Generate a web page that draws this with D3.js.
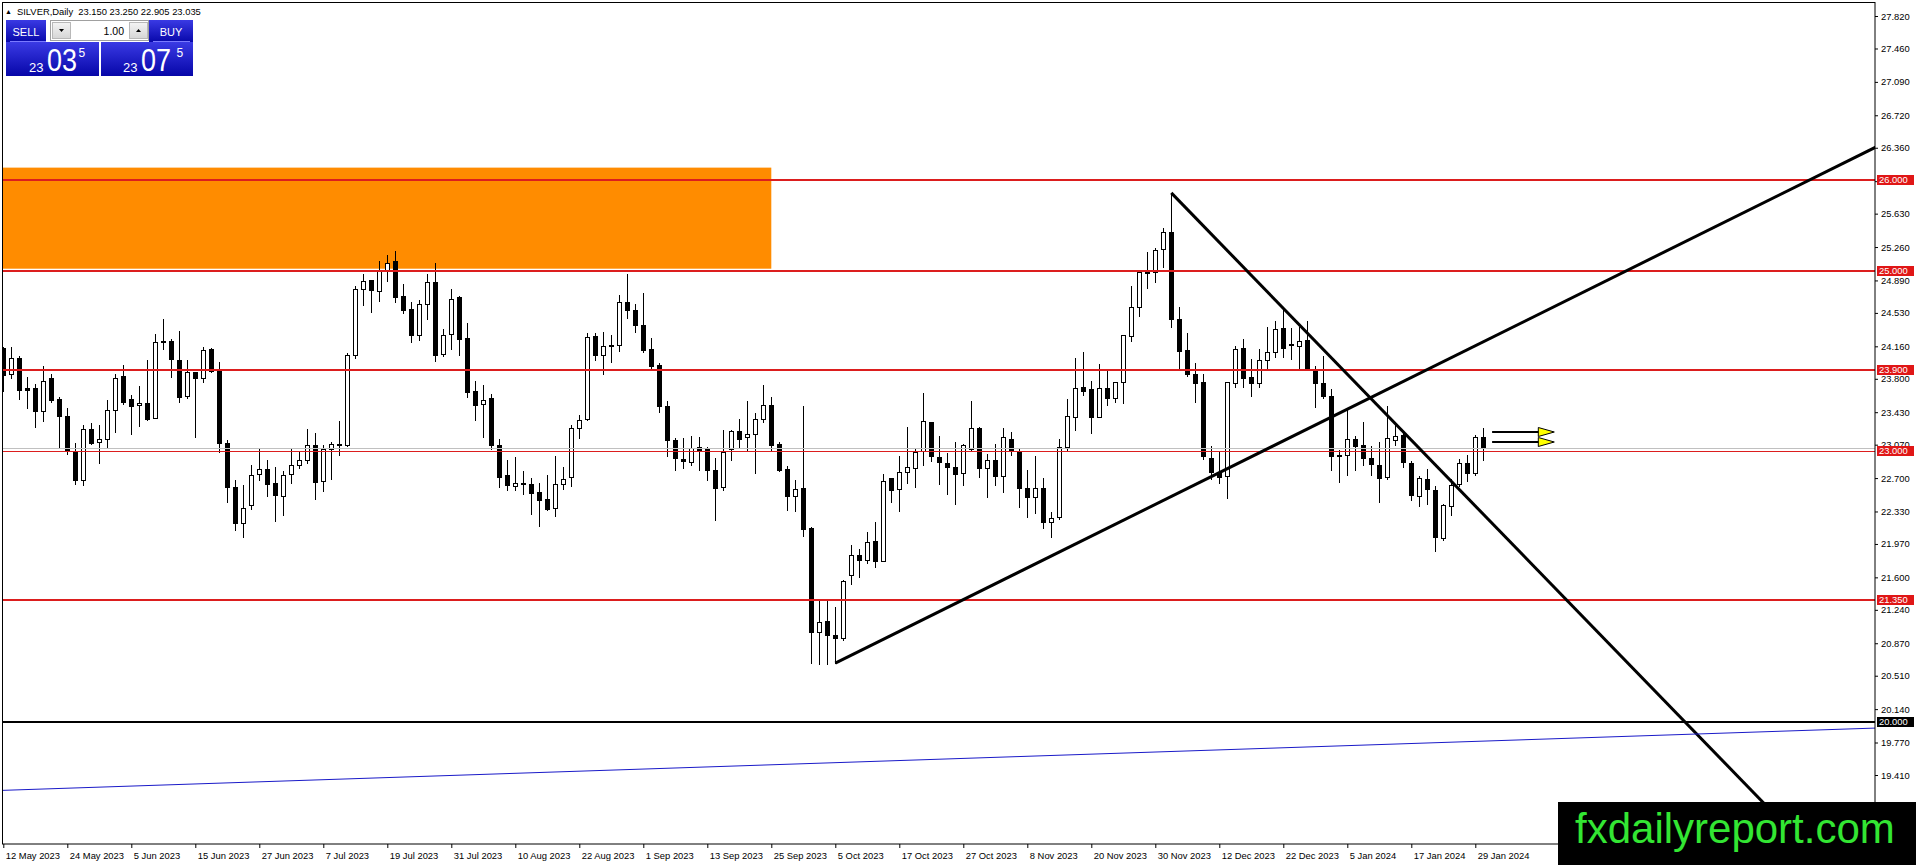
<!DOCTYPE html>
<html>
<head>
<meta charset="utf-8">
<script src="https://cdn.jsdelivr.net/npm/d3@7"></script>
<style>
body { margin: 0; background: #fff; overflow: hidden; }
svg { display: block; font-family: Tahoma, "Liberation Sans", Arial, sans-serif; }
</style>
</head>
<body>
<script>
// SILVER daily, 12 May 2023 - 30 Jan 2024 (one bar per trading day)
var opens = [24.143, 23.855, 24.032, 23.693, 23.693, 23.441, 23.811, 23.571, 23.393, 23.002,
22.677, 23.249, 23.098, 23.135, 23.456, 23.826, 23.571, 23.515, 23.537, 23.368,
24.224, 24.224, 24.010, 23.611, 23.870, 23.811, 24.132, 23.885, 23.094, 22.596,
22.204, 22.404, 22.740, 22.802, 22.651, 22.503, 22.740, 22.847, 22.902, 23.068,
22.666, 23.024, 23.079, 23.061, 24.066, 24.797, 24.896, 24.775, 25.007, 25.100,
24.712, 24.575, 24.287, 24.631, 24.878, 24.073, 24.298, 24.701, 24.254, 23.663,
23.523, 23.582, 23.068, 22.729, 22.614, 22.647, 22.633, 22.551, 22.470, 22.367,
22.636, 22.710, 23.260, 23.353, 24.269, 24.066, 24.162, 24.176, 24.649, 24.557,
24.391, 24.133, 23.952, 23.501, 23.124, 22.914, 22.873, 23.043, 23.028, 22.792,
22.600, 23.021, 23.217, 23.154, 23.187, 23.353, 23.512, 23.080, 22.803, 22.497,
22.593, 22.149, 20.990, 21.119, 20.964, 20.927, 21.621, 21.850, 21.787, 22.005,
21.784, 22.696, 22.578, 22.770, 22.809, 23.005, 23.318, 22.931, 22.864, 22.820,
22.754, 23.019, 23.252, 22.809, 22.898, 22.724, 23.130, 22.994, 22.587, 22.495,
22.587, 22.211, 22.266, 23.042, 23.381, 23.706, 23.684, 23.381, 23.695, 23.584,
23.762, 24.278, 24.592, 24.987, 24.980, 25.235, 25.423, 24.463, 24.119, 23.853,
23.761, 22.922, 22.771, 22.727, 23.757, 24.138, 23.824, 23.757, 24.005, 24.093,
24.359, 24.186, 24.167, 24.230, 23.898, 23.752, 23.612, 22.958, 22.951, 23.132,
23.069, 22.921, 22.847, 22.707, 23.117, 23.180, 22.866, 22.497, 22.689, 22.571,
22.035, 22.393, 22.633, 22.866, 22.755, 23.150];

var highs = [24.150, 24.150, 24.058, 23.818, 23.744, 23.947, 23.855, 23.597, 23.475, 23.091,
23.283, 23.312, 23.283, 23.560, 23.855, 23.955, 23.622, 23.715, 24.003, 24.295,
24.464, 24.243, 24.332, 24.010, 23.873, 24.150, 24.140, 23.984, 23.127, 22.684,
22.625, 22.847, 23.024, 22.902, 22.821, 22.773, 23.017, 23.002, 23.246, 23.201,
23.068, 23.098, 23.334, 24.088, 24.823, 24.963, 24.900, 25.103, 25.174, 25.211,
24.852, 24.649, 24.668, 24.963, 25.085, 24.354, 24.790, 24.712, 24.420, 23.781,
23.726, 23.633, 23.135, 22.895, 22.939, 22.780, 22.699, 22.647, 22.729, 22.950,
22.828, 23.283, 23.401, 24.309, 24.306, 24.324, 24.280, 24.730, 24.956, 24.631,
24.749, 24.251, 23.974, 23.557, 23.143, 23.143, 23.169, 23.150, 23.043, 22.921,
23.235, 23.235, 23.353, 23.549, 23.420, 23.734, 23.597, 23.095, 22.829, 22.681,
23.501, 22.157, 21.344, 21.344, 21.267, 21.573, 21.957, 21.917, 22.098, 22.208,
22.748, 22.700, 22.947, 23.265, 23.031, 23.640, 23.326, 23.167, 22.975, 23.097,
23.075, 23.559, 23.263, 22.968, 23.079, 23.252, 23.208, 23.031, 22.790, 22.946,
22.698, 22.321, 23.130, 23.573, 24.028, 24.094, 23.777, 23.965, 23.898, 23.770,
24.290, 24.828, 24.987, 25.201, 25.253, 25.467, 25.860, 24.592, 24.304, 23.971,
23.853, 23.055, 23.004, 23.768, 24.163, 24.241, 24.016, 24.130, 24.378, 24.444,
24.562, 24.359, 24.370, 24.444, 23.946, 24.055, 23.686, 23.014, 23.457, 23.161,
23.320, 23.050, 23.099, 23.494, 23.283, 23.206, 22.884, 22.718, 22.799, 22.615,
22.415, 22.689, 22.914, 22.958, 23.180, 23.250];

var lows = [23.670, 23.807, 23.578, 23.475, 23.264, 23.331, 23.541, 23.042, 22.969, 22.636,
22.625, 23.079, 22.865, 23.031, 23.209, 23.519, 23.187, 23.275, 23.338, 23.364,
24.128, 23.818, 23.541, 23.585, 23.153, 23.763, 23.873, 22.987, 22.433, 22.130,
22.045, 22.356, 22.684, 22.500, 22.223, 22.293, 22.647, 22.810, 22.865, 22.470,
22.555, 22.692, 22.958, 23.050, 24.029, 24.620, 24.538, 24.657, 24.889, 24.649,
24.531, 24.206, 24.232, 24.464, 23.992, 24.051, 24.132, 24.066, 23.597, 23.345,
23.153, 23.024, 22.599, 22.570, 22.570, 22.525, 22.304, 22.167, 22.348, 22.285,
22.581, 22.607, 23.142, 23.338, 24.003, 23.855, 23.984, 24.103, 24.472, 24.317,
24.095, 23.911, 23.427, 22.947, 22.785, 22.810, 22.847, 22.785, 22.681, 22.238,
22.570, 22.903, 23.032, 23.006, 22.755, 23.324, 23.006, 22.781, 22.349, 22.338,
22.061, 20.650, 20.639, 20.639, 20.650, 20.908, 21.525, 21.599, 21.758, 21.710,
21.776, 22.430, 22.330, 22.644, 22.598, 22.846, 22.890, 22.632, 22.525, 22.414,
22.624, 23.005, 22.709, 22.495, 22.624, 22.550, 22.953, 22.384, 22.273, 22.318,
22.144, 22.050, 22.247, 23.005, 23.234, 23.618, 23.204, 23.374, 23.511, 23.544,
23.529, 24.222, 24.500, 24.810, 24.876, 25.042, 24.370, 23.923, 23.831, 23.547,
22.908, 22.686, 22.642, 22.476, 23.713, 23.713, 23.613, 23.713, 23.909, 24.038,
24.045, 24.019, 23.909, 23.909, 23.491, 23.586, 22.792, 22.652, 22.737, 22.785,
22.847, 22.737, 22.430, 22.689, 23.069, 22.818, 22.460, 22.386, 22.415, 21.887,
22.016, 22.293, 22.607, 22.663, 22.736, 22.905];

var closes = [23.837, 24.032, 23.678, 23.678, 23.441, 23.781, 23.560, 23.386, 22.995, 22.677,
23.246, 23.094, 23.135, 23.456, 23.811, 23.541, 23.504, 23.537, 23.356, 24.213,
24.206, 24.018, 23.597, 23.870, 23.811, 24.121, 23.881, 23.091, 22.603, 22.204,
22.367, 22.736, 22.802, 22.636, 22.514, 22.729, 22.847, 22.902, 23.068, 22.662,
23.024, 23.079, 23.065, 24.066, 24.797, 24.886, 24.786, 25.007, 25.085, 24.705,
24.561, 24.287, 24.631, 24.871, 24.066, 24.280, 24.686, 24.239, 23.652, 23.512,
23.567, 23.061, 22.710, 22.625, 22.647, 22.633, 22.537, 22.459, 22.359, 22.636,
22.692, 23.260, 23.349, 24.265, 24.066, 24.169, 24.176, 24.649, 24.564, 24.398,
24.114, 23.937, 23.494, 23.117, 22.921, 22.888, 23.032, 23.006, 22.785, 22.585,
22.991, 23.224, 23.136, 23.187, 23.353, 23.509, 23.069, 22.785, 22.497, 22.578,
22.135, 20.990, 21.104, 20.956, 20.927, 21.562, 21.846, 21.787, 21.994, 21.776,
22.670, 22.563, 22.770, 22.818, 22.994, 23.333, 22.946, 22.875, 22.820, 22.746,
23.064, 23.252, 22.809, 22.898, 22.724, 23.160, 23.008, 22.587, 22.488, 22.587,
22.211, 22.255, 23.042, 23.392, 23.695, 23.670, 23.381, 23.695, 23.592, 23.762,
24.286, 24.592, 24.980, 24.969, 25.227, 25.423, 24.459, 24.112, 23.850, 23.757,
22.948, 22.771, 22.716, 23.761, 24.130, 23.813, 23.757, 24.005, 24.101, 24.352,
24.145, 24.171, 24.223, 23.916, 23.750, 23.605, 22.940, 22.943, 23.132, 23.050,
22.921, 22.855, 22.700, 23.143, 23.169, 22.873, 22.508, 22.700, 22.578, 22.042,
22.400, 22.626, 22.866, 22.755, 23.154, 23.035];

// one date label every 8 bars
var dateLabels = ["12 May 2023", "24 May 2023", "5 Jun 2023", "15 Jun 2023", "27 Jun 2023",
"7 Jul 2023", "19 Jul 2023", "31 Jul 2023", "10 Aug 2023", "22 Aug 2023", "1 Sep 2023",
"13 Sep 2023", "25 Sep 2023", "5 Oct 2023", "17 Oct 2023", "27 Oct 2023", "8 Nov 2023",
"20 Nov 2023", "30 Nov 2023", "12 Dec 2023", "22 Dec 2023", "5 Jan 2024", "17 Jan 2024",
"29 Jan 2024"];

var priceTicks = [27.82, 27.46, 27.09, 26.72, 26.36, 25.99, 25.63, 25.26, 24.89, 24.53,
24.16, 23.80, 23.43, 23.07, 22.70, 22.33, 21.97, 21.60, 21.24, 20.87, 20.51, 20.14,
19.77, 19.41, 19.04];

// drawn objects (bar index, price)
var redLevels = [26.0, 25.0, 23.9, 23.0, 21.35];
var blackLevels = [20.0];
var bidPrice = 23.035;
var zoneBars = [-10, 96];
var zonePrices = [25.02, 26.14];
var upTrend = [[104, 20.65], [200, 24.87]];
var downTrend = [[146, 25.86], [200, 20.93]];
var blueLine = [[0, 19.24], [234, 19.93]];
var arrowBars = [186.1, 192];
var arrowPrices = [23.21, 23.10];

var header = "SILVER,Daily";
var ohlc = [23.150, 23.250, 22.905, 23.035];
var sellQuote = ["23", "03", "5"];
var buyQuote = ["23", "07", "5"];
var lotSize = "1.00";

var W = 1916, H = 865;
var plot = {left: 3, top: 3, right: 1875, bottom: 844};
var font = 9.4;

var x = d3.scaleLinear().domain([0, 234]).range([3.3, 1875.3]);
var y = d3.scaleLinear().domain([19.41, 27.82]).range([775, 16]);

var svg = d3.select('body').append('svg')
.attr('width', W)
.attr('height', H);

var defs = svg.append('defs');
defs.append('clipPath').attr('id', 'plotclip')
.append('rect')
.attr('x', plot.left)
.attr('y', plot.top)
.attr('width', plot.right - plot.left)
.attr('height', plot.bottom - plot.top);

var grad = defs.append('linearGradient').attr('id', 'blue')
.attr('x1', 0).attr('y1', 0).attr('x2', 0).attr('y2', 1);
grad.append('stop').attr('offset', '0%').attr('stop-color', '#3a3ae4');
grad.append('stop').attr('offset', '100%').attr('stop-color', '#0606a8');

var btn = defs.append('linearGradient').attr('id', 'btn')
.attr('x1', 0).attr('y1', 0).attr('x2', 0).attr('y2', 1);
btn.append('stop').attr('offset', '0%').attr('stop-color', '#f4f4f4');
btn.append('stop').attr('offset', '100%').attr('stop-color', '#d6d6d6');

var main = svg.append('g').attr('clip-path', 'url(#plotclip)');

// orange supply zone
main.append('rect')
.attr('x', x(zoneBars[0]))
.attr('y', y(zonePrices[1]))
.attr('width', x(zoneBars[1]) - x(zoneBars[0]))
.attr('height', y(zonePrices[0]) - y(zonePrices[1]))
.attr('fill', '#ff8c00');

// candles
var bars = d3.range(opens.length);
var candles = main.append('g');

candles.selectAll('line.wick')
.data(bars)
.enter().append('line')
.attr('class', 'wick')
.attr('x1', function(i) { return Math.round(x(i)) + 0.5; })
.attr('x2', function(i) { return Math.round(x(i)) + 0.5; })
.attr('y1', function(i) { return Math.round(y(highs[i])); })
.attr('y2', function(i) { return Math.round(y(lows[i])) + 1; })
.attr('stroke', '#000')
.attr('stroke-width', 1);

candles.selectAll('rect.body')
.data(bars)
.enter().append('rect')
.attr('class', 'body')
.attr('x', function(i) { return Math.round(x(i)) - 1.5; })
.attr('y', function(i) { return Math.round(y(Math.max(opens[i], closes[i]))) + 0.5; })
.attr('width', 4)
.attr('height', function(i) {
  var h = Math.round(y(Math.min(opens[i], closes[i]))) - Math.round(y(Math.max(opens[i], closes[i])));
  return Math.max(h, 1);
})
.attr('fill', function(i) { return closes[i] >= opens[i] ? '#fff' : '#000'; })
.attr('stroke', '#000')
.attr('stroke-width', 1);

// horizontal levels
var levels = main.append('g');
levels.append('line')
.attr('x1', plot.left).attr('x2', plot.right)
.attr('y1', Math.round(y(bidPrice)) + 0.5)
.attr('y2', Math.round(y(bidPrice)) + 0.5)
.attr('stroke', '#c0c0c0')
.attr('stroke-width', 1);

levels.selectAll('line.red')
.data(redLevels)
.enter().append('line')
.attr('class', 'red')
.attr('x1', plot.left).attr('x2', plot.right)
.attr('y1', function(d) { return d === 23.0 ? Math.round(y(d)) + 0.5 : Math.round(y(d)); })
.attr('y2', function(d) { return d === 23.0 ? Math.round(y(d)) + 0.5 : Math.round(y(d)); })
.attr('stroke', '#dc1e1e')
.attr('stroke-width', function(d) { return d === 23.0 ? 1 : 2; });

levels.selectAll('line.black')
.data(blackLevels)
.enter().append('line')
.attr('class', 'black')
.attr('x1', plot.left).attr('x2', plot.right)
.attr('y1', function(d) { return Math.round(y(d)); })
.attr('y2', function(d) { return Math.round(y(d)); })
.attr('stroke', '#000')
.attr('stroke-width', 2);

// trend lines
function valueAt(p, b) {
  return p[0][1] + (p[1][1] - p[0][1]) * (b - p[0][0]) / (p[1][0] - p[0][0]);
}
var bEnd = x.invert(plot.right + 4);
var bStart = x.invert(plot.left - 4);

[upTrend, downTrend].forEach(function(p) {
  main.append('line')
  .attr('x1', x(p[0][0])).attr('y1', y(p[0][1]))
  .attr('x2', x(bEnd)).attr('y2', y(valueAt(p, bEnd)))
  .attr('stroke', '#000')
  .attr('stroke-width', 3);
});

main.append('line')
.attr('x1', x(bStart)).attr('y1', y(valueAt(blueLine, bStart)))
.attr('x2', x(bEnd)).attr('y2', y(valueAt(blueLine, bEnd)))
.attr('stroke', '#1a1ac8')
.attr('stroke-width', 1);

// arrows
arrowPrices.forEach(function(p) {
  var yy = Math.round(y(p));
  var x0 = x(arrowBars[0]), x1 = x(arrowBars[1]);
  main.append('line')
  .attr('x1', x0).attr('x2', x1)
  .attr('y1', yy).attr('y2', yy)
  .attr('stroke', '#000')
  .attr('stroke-width', 2);
  main.append('path')
  .attr('d', 'M' + (x1 - 1) + ',' + (yy - 4.5) + 'L' + (x1 + 15) + ',' + yy + 'L' + (x1 - 1) + ',' + (yy + 4.5) + 'Z')
  .attr('fill', '#ffff00')
  .attr('stroke', '#000')
  .attr('stroke-width', 1);
});

// frame
svg.append('rect')
.attr('x', 2.5).attr('y', 2.5)
.attr('width', plot.right - 2.5)
.attr('height', plot.bottom - 2.5)
.attr('fill', 'none')
.attr('stroke', '#000')
.attr('stroke-width', 1);

// price axis
var yAxis = d3.axisRight(y)
.tickValues(priceTicks)
.tickFormat(d3.format('.3f'))
.tickSize(3)
.tickSizeOuter(0);

var ya = svg.append('g')
.attr('transform', 'translate(' + plot.right + ',0)')
.call(yAxis);
ya.select('.domain').remove();
ya.selectAll('text').attr('x', 6).style('font-size', font + 'px').style('font-family', 'Tahoma, "Liberation Sans", Arial, sans-serif').attr('fill', '#000');

// time axis
var xAxis = d3.axisBottom(x)
.tickValues(d3.range(0, dateLabels.length * 8, 8))
.tickFormat(function(d, i) { return dateLabels[i]; })
.tickSize(4)
.tickSizeOuter(0);

var xa = svg.append('g')
.attr('transform', 'translate(0,' + plot.bottom + ')')
.call(xAxis);
xa.select('.domain').remove();
xa.selectAll('text')
.attr('x', 2)
.attr('y', 8)
.style('text-anchor', 'start')
.style('font-size', font + 'px')
.style('font-family', 'Tahoma, "Liberation Sans", Arial, sans-serif')
.attr('fill', '#000');

// level labels on the price scale
var tags = svg.append('g');
function tag(v, color) {
  var yy = Math.round(y(v));
  tags.append('rect')
  .attr('x', plot.right + 2).attr('y', yy - 5)
  .attr('width', 37).attr('height', 10)
  .attr('fill', color);
  tags.append('text')
  .attr('x', plot.right + 4).attr('y', yy)
  .attr('dy', '0.35em')
  .style('font-size', font + 'px')
  .attr('fill', '#fff')
  .text(d3.format('.3f')(v));
}
redLevels.forEach(function(v) { tag(v, '#e01616'); });
blackLevels.forEach(function(v) { tag(v, '#000'); });

// header line
svg.append('text')
.attr('x', 5).attr('y', 14)
.style('font-size', '7px')
.text('\u25B2');
svg.append('text')
.attr('x', 17).attr('y', 14.5)
.style('font-size', font + 'px')
.style('white-space', 'pre')
.text(header + '  ' + ohlc.map(d3.format('.3f')).join(' '));

// one click trading panel
var panel = svg.append('g');
panel.append('rect').attr('x', 6).attr('y', 20).attr('width', 40).attr('height', 23).attr('fill', 'url(#blue)');
panel.append('rect').attr('x', 6).attr('y', 42).attr('width', 93).attr('height', 34).attr('fill', 'url(#blue)');
panel.append('rect').attr('x', 149).attr('y', 20).attr('width', 44).attr('height', 23).attr('fill', 'url(#blue)');
panel.append('rect').attr('x', 101).attr('y', 42).attr('width', 92).attr('height', 34).attr('fill', 'url(#blue)');
panel.append('line').attr('x1', 10).attr('x2', 46).attr('y1', 41.5).attr('y2', 41.5).attr('stroke', '#7a7aff');
panel.append('line').attr('x1', 153).attr('x2', 190).attr('y1', 41.5).attr('y2', 41.5).attr('stroke', '#7a7aff');

panel.append('rect').attr('x', 50.5).attr('y', 20.5).attr('width', 98).attr('height', 20).attr('fill', '#fff').attr('stroke', '#a0a0a0');
panel.append('rect').attr('x', 52.5).attr('y', 22.5).attr('width', 18).attr('height', 16).attr('fill', 'url(#btn)').attr('stroke', '#b8b8b8');
panel.append('rect').attr('x', 129.5).attr('y', 22.5).attr('width', 18).attr('height', 16).attr('fill', 'url(#btn)').attr('stroke', '#b8b8b8');
panel.append('path').attr('d', 'M59,29L64,29L61.5,32Z').attr('fill', '#000');
panel.append('path').attr('d', 'M136,32L141,32L138.5,29Z').attr('fill', '#000');
panel.append('text').attr('x', 124).attr('y', 35).attr('text-anchor', 'end').style('font-size', '10.5px').text(lotSize);

panel.append('text').attr('x', 26).attr('y', 35.5).attr('text-anchor', 'middle').style('font-size', '11px').attr('fill', '#fff').text('SELL');
panel.append('text').attr('x', 171).attr('y', 35.5).attr('text-anchor', 'middle').style('font-size', '11px').attr('fill', '#fff').text('BUY');

function quote(q, x0, supX) {
  panel.append('text').attr('x', x0).attr('y', 72).style('font-size', '13px').attr('fill', '#fff').text(q[0]);
  panel.append('text')
  .attr('x', x0 + 18).attr('y', 71)
  .attr('textLength', 30)
  .attr('lengthAdjust', 'spacingAndGlyphs')
  .style('font-size', '32px')
  .style('font-family', '"Liberation Sans", Arial, sans-serif')
  .attr('fill', '#fff')
  .text(q[1]);
  panel.append('text').attr('x', supX).attr('y', 57).style('font-size', '12px').attr('fill', '#fff').text(q[2]);
}
quote(sellQuote, 29, 78.5);
quote(buyQuote, 123, 176.5);

// watermark
svg.append('rect').attr('x', 1558).attr('y', 802).attr('width', 358).attr('height', 63).attr('fill', '#000');
svg.append('text')
.attr('x', 1575).attr('y', 843)
.style('font-family', '"Liberation Sans", Arial, sans-serif')
.style('font-size', '42px')
.attr('fill', '#33e633')
.text('fxdailyreport.com');
</script>
</body>
</html>
